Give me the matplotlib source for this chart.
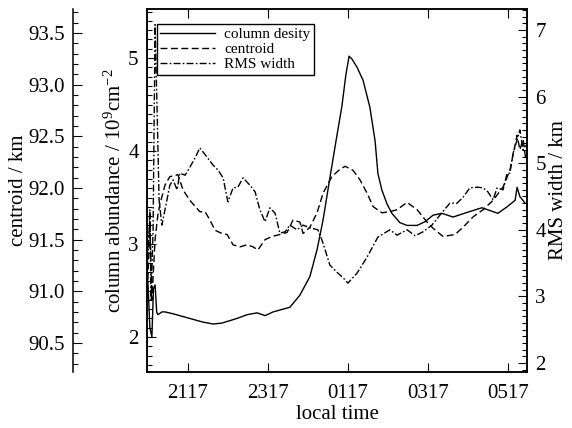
import matplotlib
matplotlib.use('Agg')
import matplotlib.pyplot as plt
from matplotlib.ticker import MultipleLocator, FormatStrFormatter

plt.rcParams['font.family'] = ['Liberation Serif', 'DejaVu Serif']
plt.rcParams['mathtext.fontset'] = 'custom'
plt.rcParams['mathtext.rm'] = 'Liberation Serif'
plt.rcParams['mathtext.it'] = 'Liberation Serif:italic'
plt.rcParams['font.size'] = 15

# local time in hours (values past 24 are after midnight)
t_col = [20.28, 20.33, 20.38, 20.42, 20.46, 20.50, 20.53, 20.63, 20.71, 20.91,
         21.16, 21.41, 21.66, 21.91, 22.13, 22.51, 22.76, 23.01, 23.21, 23.41,
         23.83, 24.08, 24.33, 24.51, 24.66, 24.83, 24.98, 25.13, 25.23, 25.31,
         25.38, 25.51, 25.66, 25.83, 25.96, 26.03, 26.13, 26.26, 26.38, 26.58,
         26.76, 27.01, 27.21, 27.41, 27.63, 27.91, 28.26, 28.63, 29.03, 29.26,
         29.46, 29.51, 29.58, 29.71]
col = [2.60, 2.10, 2.00, 2.52, 2.56, 2.27, 2.24, 2.27, 2.27, 2.25,
       2.22, 2.19, 2.16, 2.14, 2.15, 2.20, 2.24, 2.26, 2.23, 2.27,
       2.32, 2.45, 2.65, 2.94, 3.26, 3.71, 4.10, 4.48, 4.82, 5.02,
       4.99, 4.90, 4.76, 4.47, 4.11, 3.76, 3.58, 3.43, 3.33, 3.23,
       3.20, 3.20, 3.24, 3.31, 3.33, 3.29, 3.34, 3.39, 3.33, 3.40,
       3.47, 3.61, 3.51, 3.44]

t_cen = [20.28, 20.33, 20.38, 20.46, 20.53, 20.58, 20.71, 20.83, 20.96, 21.03,
         21.16, 21.33, 21.58, 21.71, 21.83, 21.96, 22.13, 22.26, 22.41, 22.58,
         22.76, 22.91, 23.03, 23.21, 23.38, 23.58, 23.76, 23.91, 24.08, 24.16,
         24.33, 24.51, 24.66, 24.88, 25.08, 25.21, 25.41, 25.58, 25.76, 25.91,
         26.13, 26.33, 26.51, 26.76, 27.01, 27.26, 27.41, 27.66, 27.96, 28.16,
         28.41, 28.66, 28.91, 29.16, 29.33, 29.51, 29.58, 29.66, 29.73]
cen = [91.11, 91.69, 90.92, 91.50, 91.74, 91.84, 92.03, 92.11, 92.12, 92.13,
       91.98, 91.88, 91.77, 91.77, 91.69, 91.59, 91.56, 91.55, 91.45, 91.43,
       91.45, 91.43, 91.40, 91.50, 91.53, 91.55, 91.57, 91.69, 91.67, 91.56,
       91.62, 91.76, 91.95, 92.11, 92.18, 92.21, 92.17, 92.08, 91.95, 91.82,
       91.76, 91.77, 91.79, 91.86, 91.79, 91.67, 91.61, 91.53, 91.55, 91.62,
       91.72, 91.79, 91.88, 92.01, 92.17, 92.51, 92.37, 92.47, 92.27]

t_rms = [20.28, 20.33, 20.36, 20.41, 20.46, 20.51, 20.56, 20.63, 20.73, 20.83,
         20.91, 21.01, 21.08, 21.21, 21.33, 21.46, 21.58, 21.76, 21.91, 22.03,
         22.16, 22.28, 22.41, 22.53, 22.66, 22.83, 22.96, 23.08, 23.21, 23.33,
         23.46, 23.58, 23.71, 23.83, 24.01, 24.16, 24.33, 24.53, 24.63, 24.71,
         24.83, 25.03, 25.16, 25.28, 25.51, 25.76, 26.03, 26.33, 26.51, 26.76,
         26.96, 27.16, 27.38, 27.58, 27.83, 28.01, 28.16, 28.33, 28.53, 28.66,
         28.78, 28.91, 29.01, 29.16, 29.26, 29.33, 29.41, 29.51, 29.58, 29.66,
         29.73]
rms = [3.55, 4.30, 2.95, 4.00, 7.08, 5.80, 4.45, 4.07, 4.37, 4.67,
       4.75, 4.60, 4.85, 4.82, 4.94, 5.08, 5.23, 5.09, 4.97, 4.90,
       4.78, 4.42, 4.63, 4.64, 4.78, 4.67, 4.57, 4.30, 4.12, 4.33,
       4.25, 3.95, 3.97, 4.07, 4.00, 4.07, 4.03, 4.00, 3.85, 3.70,
       3.47, 3.35, 3.28, 3.20, 3.35, 3.59, 3.89, 4.00, 3.92, 4.00,
       3.91, 3.97, 4.07, 4.22, 4.40, 4.40, 4.49, 4.63, 4.64, 4.63,
       4.57, 4.45, 4.63, 4.60, 4.85, 4.85, 5.15, 5.35, 5.50, 5.20,
       5.27]

xticks = [21.283, 23.283, 25.283, 27.283, 29.283]
xticklabels = ['2117', '2317', '0117', '0317', '0517']

fig = plt.figure(figsize=(5.72, 4.28), dpi=100)
ax = fig.add_axes([147/572, 56/428, 380/572, 363/428])
ax_c = ax.twinx()
ax_r = ax.twinx()

lw = 1.0
l1, = ax.plot(t_col, col, 'k-', lw=lw, label='column desity')
l2, = ax_c.plot(t_cen, cen, color='k', lw=lw, ls=(0, (5, 2.5)), label='centroid')
l3, = ax_r.plot(t_rms, rms, color='k', lw=lw, ls=(0, (5, 1.6, 1.2, 1.6)), label='RMS width')

ax.set_xlim(20.258, 29.758)
ax.set_ylim(1.624, 5.527)
ax_c.set_ylim(90.219, 93.732)
ax_r.set_ylim(1.865, 7.315)

ax.set_xticks(xticks)
ax.set_xticklabels(xticklabels)
ax.tick_params(axis='x', which='both', direction='in', top=True, length=6.5, width=0.8, pad=9)
ax.set_xlabel('local time', labelpad=1)

ax.yaxis.set_major_locator(MultipleLocator(1))
ax.yaxis.set_minor_locator(MultipleLocator(0.1))
ax.tick_params(axis='y', which='major', direction='in', length=6.5, width=0.8, pad=6)
ax.tick_params(axis='y', which='minor', direction='in', length=3.5, width=0.8)
ax.set_ylabel('column abundance / 10$^9$cm$^{-2}$', labelpad=2)

# centroid axis sits on an offset spine at the far left
ax_c.yaxis.set_ticks_position('left')
ax_c.yaxis.set_label_position('left')
ax_c.spines['left'].set_position(('outward', 53))
ax_c.spines['left'].set_visible(True)
for s in ['right', 'top', 'bottom']:
    ax_c.spines[s].set_visible(False)
ax_c.yaxis.set_major_locator(MultipleLocator(0.5))
ax_c.yaxis.set_minor_locator(MultipleLocator(0.1))
ax_c.yaxis.set_major_formatter(FormatStrFormatter('%.1f'))
ax_c.tick_params(axis='y', which='major', direction='in', length=6.5, width=0.8, pad=6)
ax_c.tick_params(axis='y', which='minor', direction='in', length=3.5, width=0.8)
ax_c.set_ylabel('centroid / km', labelpad=0)

ax_r.yaxis.set_major_locator(MultipleLocator(1))
ax_r.yaxis.set_minor_locator(MultipleLocator(0.1))
ax_r.tick_params(axis='y', which='major', direction='in', length=6.5, width=0.8, pad=6)
ax_r.tick_params(axis='y', which='minor', direction='in', length=3.5, width=0.8)
ax_r.set_ylabel('RMS width / km', labelpad=2)

for a in (ax, ax_c, ax_r):
    for s in a.spines.values():
        s.set_linewidth(1.1)

leg = ax_r.legend(handles=[l1, l2, l3], loc='upper left', bbox_to_anchor=(0.025, 0.96),
                  fontsize=11, fancybox=False, edgecolor='k', framealpha=1,
                  labelspacing=0.08, handlelength=3.6, handletextpad=0.6,
                  borderpad=0.25, borderaxespad=0)
leg.get_frame().set_linewidth(1.0)

fig.savefig('out.png', dpi=100)
